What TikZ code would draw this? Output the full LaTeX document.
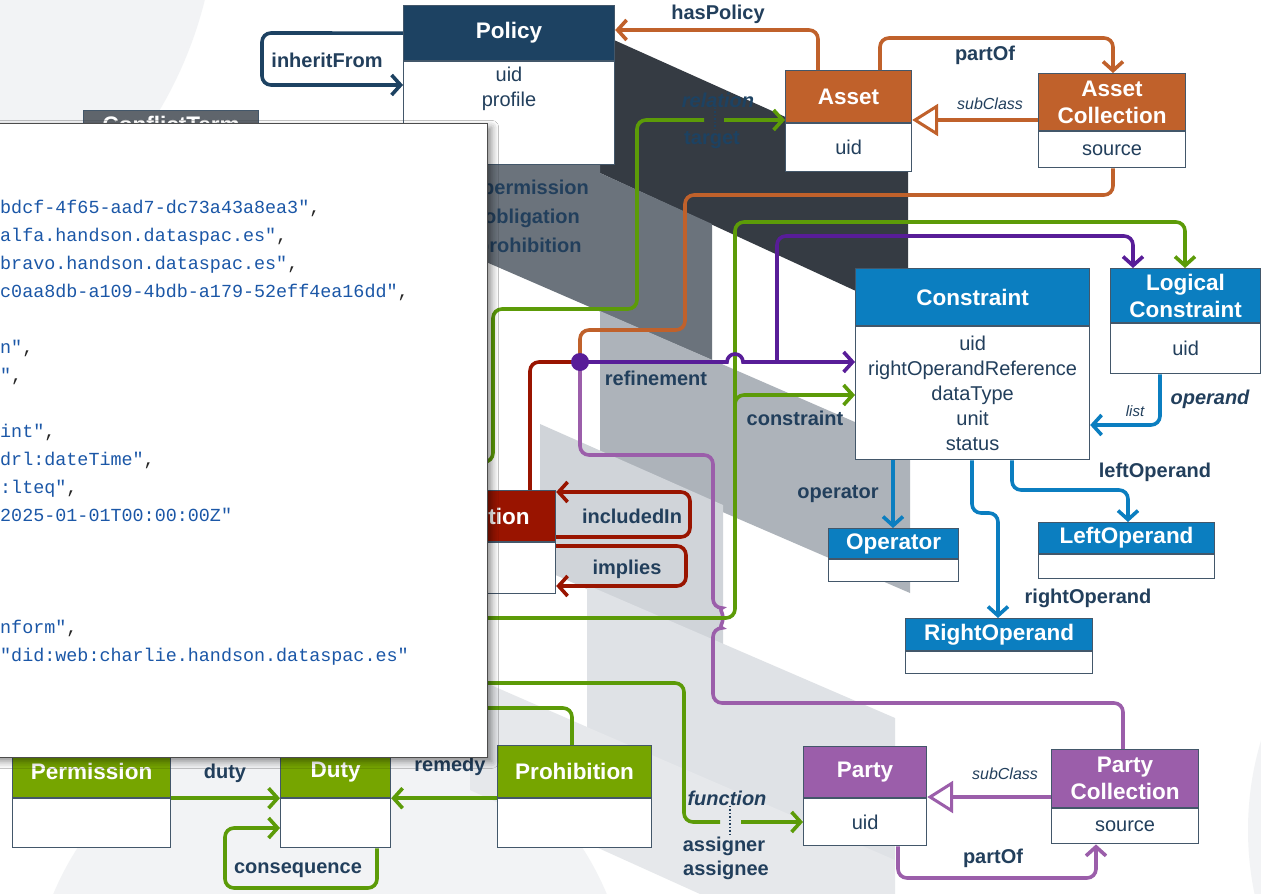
\documentclass[tikz,border=0pt]{standalone}
\usepackage{fontspec}
\setmainfont{Liberation Sans}
\newfontfamily\codefont{Liberation Mono}
\usetikzlibrary{arrows.meta,shadows.blur}
\definecolor{polc}{HTML}{1D4262}
\definecolor{labc}{HTML}{223F5C}
\definecolor{orng}{HTML}{C0612B}
\definecolor{cblue}{HTML}{0B7EC0}
\definecolor{dpurp}{HTML}{581D98}
\definecolor{lilac}{HTML}{9B5EAA}
\definecolor{rred}{HTML}{991400}
\definecolor{gline}{HTML}{5C9B08}
\definecolor{ghead}{HTML}{76A500}
\definecolor{ghdr}{HTML}{5F656C}
\definecolor{bord}{HTML}{43576A}
\definecolor{codeblue}{HTML}{1B57A7}
\definecolor{bgdark}{HTML}{353B43}
\definecolor{bgmed}{HTML}{6B737C}
\definecolor{bglone}{HTML}{ADB3BA}
\definecolor{bgltwo}{HTML}{D0D4D9}
\definecolor{bglthree}{HTML}{DFE2E6}
\definecolor{bglfour}{HTML}{E6E8EB}
\definecolor{bgcirc}{HTML}{F2F3F5}
\newcommand{\cb}[1]{\textcolor{codeblue}{#1}}
\begin{document}
\begin{tikzpicture}[x=1pt,y=-1pt,
  hdr/.style={draw=bord, line width=1.2pt, anchor=north west, inner sep=0pt, align=center, text=white, font=\fontsize{22.5}{27}\selectfont\bfseries},
  bdy/.style={draw=bord, line width=1.2pt, fill=white, anchor=north west, inner sep=0pt, align=center, text=labc, font=\fontsize{20}{25}\selectfont},
  attr/.style={inner sep=0pt, align=center, text=labc, font=\fontsize{20}{25}\selectfont},
  lab/.style={text=labc, font=\fontsize{20}{24}\selectfont\bfseries, inner sep=0pt},
  ilab/.style={text=labc, font=\fontsize{16}{20}\selectfont\itshape, inner sep=0pt},
  conn/.style={line width=3.6pt, rounded corners=9pt},
  arr/.style={-{Straight Barb[length=9pt,width=20pt]}},
  tri/.style={-{Triangle[length=26pt,width=32pt,fill=white,line width=3pt]}},
  code/.style={inner sep=0pt, anchor=base west, font=\codefont\fontsize{18.4}{28}\selectfont, text=black!85}
]
\useasboundingbox (0,0) rectangle (1261,894);
\fill[white] (0,0) rectangle (1261,894);
% ---------- background ----------
\fill[bgcirc] (-196,-100) circle[radius=413];
\fill[bgcirc] (330,1010) circle[radius=300];
\fill[bgcirc] (1560,830) circle[radius=312];
\fill[bgdark] (614,40) -- (908,172) -- (908,315) -- (600,173) -- (600,163) -- (614,163) -- cycle;
\fill[bgmed] (470,163) -- (600,163) -- (600,173) -- (712,224) -- (712,360) -- (470,255) -- cycle;
\fill[bglone] (600,311) -- (910,446) -- (910,593) -- (600,459) -- cycle;
\fill[bgltwo] (540,424) -- (723,505) -- (723,650) -- (540,568) -- cycle;
\fill[bglthree] (587,585) -- (895,718) -- (895,866) -- (587,733) -- cycle;
\fill[bglfour] (470,676) -- (587,727) -- (895,860) -- (895,894) -- (700,894) -- (470,790) -- cycle;
% ghost labels on dark background
\node[text=polc, font=\fontsize{20}{24}\selectfont\bfseries\itshape, inner sep=0pt] (relation) at (718,100) {relation};
\node[text=polc, font=\fontsize{20}{24}\selectfont\bfseries, inner sep=0pt] (target) at (712,140) {target};
\draw[polc, line width=1.5pt, dotted] (relation.south -| 715,0) -- (target.north -| 715,0);
\node[lab, anchor=west] (lperm) at (482,189) {permission};
\node[lab, anchor=west] (lobl) at (484,218) {obligation};
\node[lab, anchor=west] (lproh) at (477,247) {prohibition};
% ---------- classes ----------
\node[hdr, fill=polc, minimum width=211pt, minimum height=55pt] (policy) at (403,5) {Policy};
\node[bdy, minimum width=211pt, minimum height=103pt] (policyb) at (policy.south west) {};
\node[attr] (policyattr) at (509,89) {uid\\profile};
\node[hdr, fill=ghdr, minimum width=175pt, minimum height=28pt] (conflict) at (83,110) {ConflictTerm};
\node[hdr, fill=orng, minimum width=126pt, minimum height=52pt] (asset) at (785,70) {Asset};
\node[bdy, minimum width=126pt, minimum height=48pt] (assetb) at (asset.south west) {uid};
\node[hdr, fill=orng, minimum width=147pt, minimum height=57pt] (ac) at (1038,73) {Asset\\Collection};
\node[bdy, minimum width=147pt, minimum height=36pt] (acb) at (ac.south west) {source};
\node[hdr, fill=cblue, minimum width=234pt, minimum height=57pt] (constraint) at (855,268) {Constraint};
\node[bdy, minimum width=234pt, minimum height=133pt] (constraintb) at (constraint.south west) {uid\\rightOperandReference\\dataType\\unit\\status};
\node[hdr, fill=cblue, minimum width=150pt, minimum height=54pt] (lc) at (1110,268) {Logical\\Constraint};
\node[bdy, minimum width=150pt, minimum height=50pt] (lcb) at (lc.south west) {uid};
\node[hdr, fill=cblue, minimum width=130pt, minimum height=30pt] (operator) at (828,528) {Operator};
\node[bdy, minimum width=130pt, minimum height=22pt] (operatorb) at (operator.south west) {};
\node[hdr, fill=cblue, minimum width=176pt, minimum height=31pt] (leftop) at (1038,522) {LeftOperand};
\node[bdy, minimum width=176pt, minimum height=24pt] (leftopb) at (leftop.south west) {};
\node[hdr, fill=cblue, minimum width=187pt, minimum height=32pt] (rightop) at (905,618) {RightOperand};
\node[bdy, minimum width=187pt, minimum height=22pt] (rightopb) at (rightop.south west) {};
\node[hdr, fill=rred, minimum width=122pt, minimum height=51pt] (action) at (433,490) {Action};
\node[bdy, minimum width=122pt, minimum height=51pt] (actionb) at (action.south west) {};
\node[hdr, fill=ghead, minimum width=158pt, minimum height=52pt] (perm) at (12,745) {Permission};
\node[bdy, minimum width=158pt, minimum height=49pt] (permb) at (perm.south west) {};
\node[hdr, fill=ghead, minimum width=110pt, minimum height=52pt] (duty) at (280,745) {Duty};
\node[bdy, minimum width=110pt, minimum height=49pt] (dutyb) at (duty.south west) {};
\node[hdr, fill=ghead, minimum width=154pt, minimum height=52pt] (proh) at (497,745) {Prohibition};
\node[bdy, minimum width=154pt, minimum height=49pt] (prohb) at (proh.south west) {};
\node[hdr, fill=lilac, minimum width=123pt, minimum height=51pt] (party) at (803,746) {Party};
\node[bdy, minimum width=123pt, minimum height=47pt] (partyb) at (party.south west) {uid};
\node[hdr, fill=lilac, minimum width=147pt, minimum height=58pt] (pc) at (1051,749) {Party\\Collection};
\node[bdy, minimum width=147pt, minimum height=35pt] (pcb) at (pc.south west) {source};
% ---------- connectors ----------
\coordinate (hub) at (580,362);
% policy
\draw[conn, polc, arr] (policy.west) -- (262,33) -- (262,85) -- (policyb.west |- 0,85);
\node[lab] (linherit) at (327,60) {inheritFrom};
% asset
\draw[conn, orng, arr] (asset.north -| 818,0) -- (818,30) -- (policy.east |- 0,30);
\node[lab] (lhaspol) at (718,14) {hasPolicy};
\draw[conn, orng, arr] (asset.north -| 880,0) -- (880,38) -- (1113,38) -- (ac.north -| 1113,0);
\node[lab] (lpartof) at (985,55) {partOf};
\draw[line width=3.6pt, orng, tri] (ac.west |- 0,120) -- (asset.east |- 0,120);
\node[ilab] (lsub) at (990,104) {subClass};
\draw[conn, orng] (acb.south -| 1113,0) -- (1113,195) -- (685,195) -- (685,330) -- (580,330) -- (hub);
% green target
\draw[conn, gline] (470,462) -- (493,462) -- (493,309) -- (637,309) -- (637,120) -- (704,120);
\draw[conn, gline, arr] (724,120) -- (asset.west |- 0,120);
% refinement
\draw[conn, rred] (hub) -- (530,362) -- (action.north -| 530,0);
\draw[conn, lilac] (hub) -- (580,455) -- (713,455) -- (713,608) arc[start angle=-90,end angle=90,radius=10] -- (713,703) -- (1123,703) -- (pc.north -| 1123,0);
\draw[conn, gline] (470,618) -- (735,618) -- (735,395);
\draw[conn, gline, arr] (735,405) -- (735,395) -- (constraintb.west |- 0,395);
\draw[conn, gline, arr] (735,400) -- (735,222) -- (1185,222) -- (lc.north -| 1185,0);
\draw[line width=3.6pt, dpurp, arr] (hub) -- (727,362) arc[start angle=180,end angle=360,radius=8] -- (constraintb.west |- 0,362);
\draw[conn, dpurp, arr] (777,362) -- (777,236) -- (1133,236) -- (lc.north -| 1133,0);
\node[circle, fill=dpurp, minimum size=18pt, inner sep=0pt] (dot) at (hub) {};
\node[lab] (lrefine) at (656,378) {refinement};
\node[lab] (lconstr) at (795,418) {constraint};
% action loops
\draw[conn, rred, arr] (action.east |- 0,537) -- (690,537) -- (690,492) -- (action.east |- 0,492);
\node[lab] (lincl) at (632,516) {includedIn};
\draw[conn, rred, arr] (actionb.east |- 0,546) -- (686,546) -- (686,586) -- (actionb.east |- 0,586);
\node[lab] (limpl) at (627,569) {implies};
% constraint
\draw[conn, cblue, arr] (lcb.south -| 1160,0) -- (1160,425) -- (constraintb.east |- 0,425);
\node[ilab, font=\fontsize{15}{18}\selectfont\itshape] (llist) at (1135,411) {list};
\node[lab, font=\fontsize{20}{24}\selectfont\bfseries\itshape] (loperand) at (1210,399) {operand};
\draw[conn, cblue, arr] (constraintb.south -| 893,0) -- (operator.north -| 893,0);
\node[lab] (loperator) at (838,494) {operator};
\draw[conn, cblue, arr] (constraintb.south -| 1012,0) -- (1012,490) -- (1128,490) -- (leftop.north -| 1128,0);
\node[lab] (lleft) at (1155,472) {leftOperand};
\draw[conn, cblue, arr] (constraintb.south -| 972,0) -- (972,513) -- (998,513) -- (rightop.north -| 998,0);
\node[lab] (lright) at (1088,598) {rightOperand};
% duties
\draw[conn, gline, arr] (perm.south east) -- (duty.south west);
\node[lab] (lduty) at (225,773) {duty};
\draw[conn, gline, arr] (proh.south west) -- (duty.south east);
\node[lab] (lremedy) at (450,766) {remedy};
\draw[conn, gline, arr] (dutyb.south -| 377,0) -- (377,888) -- (225,888) -- (225,828) -- (dutyb.west |- 0,828);
\node[lab] (lconseq) at (298,870) {consequence};
\draw[conn, gline] (470,708) -- (572,708) -- (proh.north -| 572,0);
\draw[conn, gline] (470,683) -- (684,683) -- (684,822) -- (720,822);
\draw[conn, gline, arr] (741,822) -- (partyb.west |- 0,822);
\node[lab, font=\fontsize{20}{24}\selectfont\bfseries\itshape] (lfunc) at (727,798) {function};
\draw[labc, line width=1.5pt, dotted] (lfunc.south -| 730,0) -- (730,836);
\node[lab] (lassigner) at (724,846) {assigner};
\node[lab] (lassignee) at (726,870) {assignee};
% party
\draw[line width=3.6pt, lilac, tri] (pc.west |- 0,797) -- (party.east |- 0,797);
\node[ilab] (lsub2) at (1005,774) {subClass};
\draw[conn, lilac, arr] (partyb.south -| 898,0) -- (898,878) -- (1096,878) -- (pcb.south -| 1096,0);
\node[lab] (lpartof2) at (993,858) {partOf};
% ---------- code panel ----------
\node[draw=black!70, line width=0.8pt, fill=white, minimum width=500pt, minimum height=634pt, anchor=north east, inner sep=0pt,
  blur shadow={shadow xshift=4pt, shadow yshift=-4pt, shadow blur radius=7pt, shadow opacity=45}] (panel) at (488,123) {};
\node[code] (c1) at (0,213) {\cb{bdcf-4f65-aad7-dc73a43a8ea3"},};
\node[code] (c2) at (0,241) {\cb{alfa.handson.dataspac.es"},};
\node[code] (c3) at (0,269) {\cb{bravo.handson.dataspac.es"},};
\node[code] (c4) at (0,297) {\cb{c0aa8db-a109-4bdb-a179-52eff4ea16dd"},};
\node[code] (c5) at (0,353) {\cb{n"},};
\node[code] (c6) at (0,381) {\cb{"},};
\node[code] (c7) at (0,437) {\cb{int"},};
\node[code] (c8) at (0,465) {\cb{drl:dateTime"},};
\node[code] (c9) at (0,493) {\cb{:lteq"},};
\node[code] (c10) at (0,521) {\cb{2025-01-01T00:00:00Z"}};
\node[code] (c11) at (0,633) {\cb{nform"},};
\node[code] (c12) at (0,661) {\cb{"did:web:charlie.handson.dataspac.es"}};
\end{tikzpicture}
\end{document}
